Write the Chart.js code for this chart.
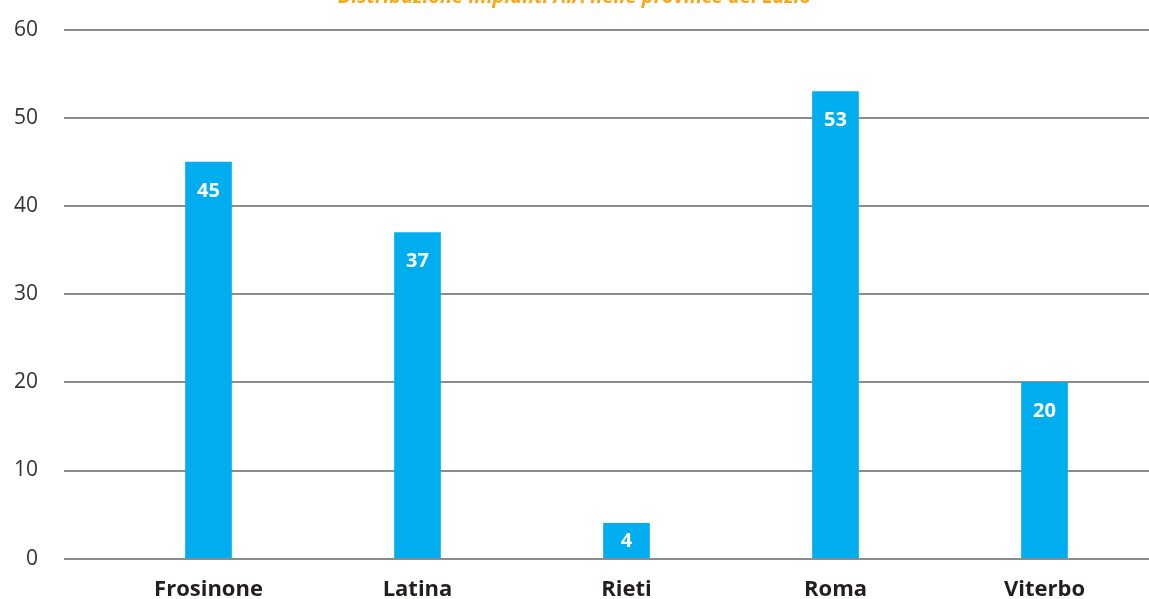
<!DOCTYPE html>
<html lang="it">
<head>
<meta charset="utf-8">
<title>Distribuzione impianti AIA nelle province del Lazio</title>
<script src="https://cdn.jsdelivr.net/npm/chart.js@4.4.1/dist/chart.umd.min.js"></script>
<style>
    html, body { margin: 0; padding: 0; background: #fff; overflow: hidden; }
    #wrap { position: relative; width: 1149px; height: 652px; margin-top: -39px; }
</style>
</head>
<body>
<div id="wrap"><canvas id="aiaChart"></canvas></div>
<script>
// Dati
const province = ['Frosinone', 'Latina', 'Rieti', 'Roma', 'Viterbo'];
const impianti = [45, 37, 4, 53, 20];
const tickY = [0, 10, 20, 30, 40, 50, 60];

const fontBase = "'Open Sans', 'Noto Sans', sans-serif";

// Etichette bianche dentro le barre
const etichetteBarre = {
    id: 'etichetteBarre',
    afterDatasetsDraw(chart) {
        const ctx = chart.ctx;
        const meta = chart.getDatasetMeta(0);
        ctx.save();
        ctx.fillStyle = '#ffffff';
        ctx.font = "bold 20px " + fontBase;
        ctx.textAlign = 'center';
        ctx.textBaseline = 'middle';
        meta.data.forEach((bar, i) => {
            const y = Math.min(bar.y + 29, (bar.y + bar.base) / 2 + 1);
            ctx.fillText(String(impianti[i]), bar.x, y);
        });
        ctx.restore();
    }
};

new Chart(document.getElementById('aiaChart'), {
    type: 'bar',
    data: {
        labels: province,
        datasets: [{
            label: 'Impianti AIA',
            data: impianti,
            backgroundColor: '#00aeef',
            barThickness: 46
        }]
    },
    options: {
        responsive: true,
        maintainAspectRatio: false,
        animation: false,
        layout: { padding: 0 },
        plugins: {
            legend: { display: false },
            tooltip: { enabled: false },
            title: {
                display: true,
                text: 'Distribuzione impianti AIA nelle province del Lazio',
                color: '#f5a81c',
                font: { family: fontBase, size: 20, weight: 'bold', style: 'italic' },
                padding: { top: 24, bottom: 21 }
            }
        },
        scales: {
            x: {
                grid: { display: false },
                border: { display: false },
                ticks: {
                    color: '#231f20',
                    padding: 10,
                    font: { family: fontBase, size: 22, weight: 'bold' }
                }
            },
            y: {
                min: 0,
                max: 60,
                afterFit(axis) { axis.width = 104; },
                afterBuildTicks(axis) { axis.ticks = tickY.map(v => ({ value: v })); },
                border: { display: false },
                grid: {
                    color: '#8c8c8c',
                    lineWidth: 2,
                    drawTicks: true,
                    tickLength: 40
                },
                ticks: {
                    color: '#333333',
                    padding: 26,
                    font: { family: fontBase, size: 21 }
                }
            }
        }
    },
    plugins: [etichetteBarre]
});
</script>
</body>
</html>
